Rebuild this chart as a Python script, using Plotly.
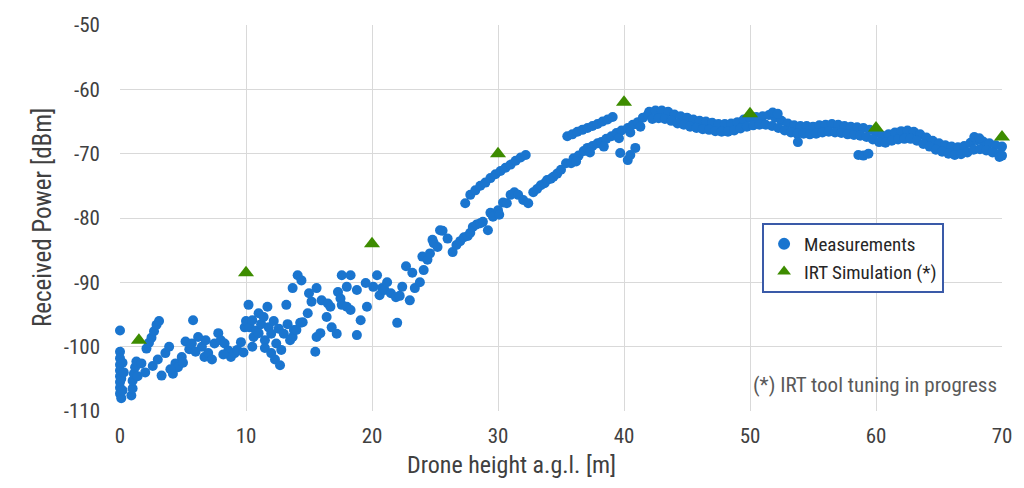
import plotly.graph_objects as go

# ---------------- data ----------------
# Measurements, split into segments along the height axis
a_x = [0.0, 0.0, 0.0, 0.0, 0.0, 0.0, 0.0, 0.0, 0.0, 0.1, 0.1, 0.2, 0.2, 0.3,
       0.9, 1.0, 1.0, 1.1, 1.2, 1.3, 1.4, 1.7, 2.0, 2.1, 2.3, 2.5, 2.7, 2.9, 3.1, 2.6, 3.0]
a_y = [-97.5, -100.8, -101.8, -102.8, -103.7, -104.6, -105.5, -106.4, -107.3, -108.0, -105.0, -102.5, -106.8, -104.0,
       -107.6, -106.5, -105.3, -104.2, -103.2, -102.3, -104.6, -102.6, -104.0, -100.3, -99.4, -98.6, -97.6, -96.6, -96.0, -103.0, -102.0]

b_x = [3.6, 3.9, 4.2, 4.4, 4.6, 4.9, 5.2, 5.5, 5.7, 5.8, 6.0, 6.2, 6.5, 6.7, 7.0, 7.3, 7.5, 7.8, 8.0, 8.3,
       8.6, 8.8, 9.1, 9.3, 9.6, 9.8, 9.9, 3.3, 4.0, 5.0, 6.8, 8.2]
b_y = [-101.0, -100.0, -104.2, -102.6, -103.2, -101.6, -99.2, -100.4, -99.5, -95.9, -100.8, -98.5, -100.0, -101.6, -101.0, -102.0, -99.5, -97.9, -99.0, -99.5,
       -100.6, -101.6, -101.0, -100.5, -99.3, -100.9, -97.0, -104.5, -103.5, -102.5, -99.0, -101.2]

c_x = [10.0, 10.2, 10.3, 10.5, 10.5, 10.6, 10.8, 11.0, 11.0, 11.2, 11.4, 11.5, 11.5, 11.7, 11.8, 12.0, 12.0, 12.2,
       12.3, 12.4, 12.6, 12.7, 12.8, 13.0, 13.2, 13.3, 13.5, 13.7, 13.8, 13.7, 14.0, 14.1, 14.3, 14.4, 14.5]
c_y = [-96.0, -93.5, -97.0, -95.9, -100.0, -98.5, -97.5, -94.8, -97.9, -96.5, -95.4, -99.0, -100.2, -93.8, -97.0, -98.0, -101.0, -96.0,
       -102.0, -99.5, -97.2, -102.9, -100.5, -98.0, -93.5, -96.5, -99.0, -98.5, -97.4, -90.9, -97.4, -88.9, -96.3, -89.7, -96.2]

d_x = [14.9, 15.0, 15.2, 15.5, 15.6, 15.6, 15.9, 16.0, 16.4, 16.5, 16.7, 16.8, 17.2, 17.3, 17.5, 17.6, 17.6, 18.0, 18.0,
       18.3, 18.3, 18.8, 18.8, 19.1, 19.5, 19.6, 20.1, 20.4, 20.6, 20.8, 21.0, 21.2, 21.5, 21.9, 22.0, 22.2, 22.4, 22.7,
       23.0, 23.2, 23.4, 23.8, 24.0, 24.1, 24.4]
d_y = [-94.8, -91.7, -93.0, -100.8, -90.9, -98.5, -97.9, -92.8, -95.4, -93.3, -93.8, -97.0, -98.0, -91.5, -92.5, -88.9, -93.5, -90.7, -93.8,
       -88.9, -94.3, -91.2, -98.2, -95.9, -90.1, -93.8, -90.7, -88.9, -92.0, -90.9, -91.2, -90.0, -91.7, -92.3, -96.3, -92.1, -90.7, -87.5,
       -92.8, -88.5, -90.9, -90.0, -86.0, -88.1, -86.5]

e_x = [24.6, 24.8, 24.9, 25.2, 25.4, 25.6, 26.0, 26.4, 26.7, 27.0, 27.3, 27.6, 27.8, 28.0, 28.3, 28.6, 28.8, 29.2, 29.4, 29.6,
       30.0, 30.1, 30.4, 30.7, 31.0, 31.3, 31.6, 32.0, 32.4, 32.8, 33.1, 33.4, 33.7, 33.9, 34.2, 34.4, 34.7, 35.0, 35.4]
e_y = [-85.5, -83.4, -83.9, -84.5, -81.9, -82.0, -83.2, -85.3, -84.2, -83.6, -83.0, -82.8, -82.3, -81.4, -81.0, -80.8, -80.6, -81.9, -79.2, -79.8,
       -78.8, -79.5, -77.6, -77.7, -76.4, -76.0, -76.4, -77.2, -77.7, -76.0, -75.5, -74.9, -74.6, -74.1, -73.9, -73.6, -73.1, -72.5, -71.5]

u_x = [27.4, 27.8, 28.2, 28.6, 29.0, 29.4, 29.8, 30.2, 30.6, 31.0, 31.4, 31.8, 32.2]
u_y = [-77.7, -76.4, -75.7, -75.0, -74.5, -73.8, -73.2, -72.7, -72.2, -71.7, -71.1, -70.6, -70.2]

f_x = [35.5, 35.9, 36.3, 36.7, 37.1, 37.5, 37.9, 38.3, 38.7, 39.1]
f_y = [-67.3, -67.0, -66.6, -66.3, -66.0, -65.7, -65.4, -65.0, -64.7, -64.3]

g_x = [35.8, 36.0, 36.4, 36.8, 37.1, 37.5, 37.9, 38.2, 38.6, 39.0, 39.4, 39.8, 40.3, 40.7, 41.1, 41.5, 41.9,
       36.2, 37.3, 38.4, 39.6, 40.5, 41.3, 39.7, 40.3, 40.9, 40.5]
g_y = [-71.5, -70.7, -70.3, -69.6, -69.1, -68.8, -68.4, -68.2, -67.7, -67.3, -66.8, -66.4, -66.0, -65.5, -65.1, -64.4, -63.9,
       -71.2, -69.8, -68.9, -67.6, -66.7, -65.8, -69.9, -71.0, -69.1, -70.2]

h1_x = [42.0, 42.5, 43.0, 43.5, 44.0, 44.5, 45.0, 45.5, 46.0, 46.5, 47.0, 47.5, 48.0, 48.5, 49.0, 49.5,
        50.0, 50.5, 51.0, 51.5, 52.0, 52.5, 53.0, 53.5, 54.0, 54.5, 55.0, 55.5, 56.0, 56.5, 57.0, 57.5,
        58.0, 58.5, 59.0, 59.5, 60.0, 60.5, 61.0, 61.5, 62.0, 62.5, 63.0, 63.5, 64.0, 64.5, 65.0, 65.5,
        66.0, 66.5, 67.0, 67.5, 68.0, 68.5, 69.0, 69.5, 70.0]
h1_y = [-63.5, -63.3, -63.3, -63.5, -63.9, -64.2, -64.4, -64.7, -64.9, -65.0, -65.2, -65.4, -65.4, -65.3, -65.1, -64.7,
        -64.4, -64.3, -64.2, -64.0, -64.4, -64.9, -65.3, -65.6, -65.7, -65.7, -65.8, -65.6, -65.5, -65.4, -65.5, -65.7,
        -65.8, -65.9, -66.0, -66.3, -66.8, -67.2, -67.0, -66.7, -66.5, -66.4, -66.6, -67.0, -67.5, -68.0, -68.4, -68.7,
        -68.9, -69.0, -68.8, -68.3, -67.9, -68.1, -68.4, -68.7, -68.9]

h2_x = [42.25, 42.75, 43.25, 43.75, 44.25, 44.75, 45.25, 45.75, 46.25, 46.75, 47.25, 47.75, 48.25, 48.75,
        49.25, 49.75, 50.25, 50.75, 51.25, 51.75, 52.25, 52.75, 53.25, 53.75, 54.25, 54.75, 55.25, 55.75,
        56.25, 56.75, 57.25, 57.75, 58.25, 58.75, 59.25, 59.75, 60.25, 60.75, 61.25, 61.75, 62.25, 62.75,
        63.25, 63.75, 64.25, 64.75, 65.25, 65.75, 66.25, 66.75, 67.25, 67.75, 68.25, 68.75, 69.25, 69.75]
h2_y = [-64.6, -64.5, -64.6, -64.9, -65.3, -65.5, -65.8, -66.0, -66.2, -66.3, -66.5, -66.6, -66.6, -66.4,
        -66.1, -65.8, -65.6, -65.5, -65.5, -65.7, -66.0, -66.4, -66.7, -66.9, -66.9, -67.0, -66.9, -66.7,
        -66.6, -66.7, -66.8, -67.0, -67.1, -67.2, -67.4, -67.8, -68.2, -68.3, -68.0, -67.8, -67.7, -67.7,
        -68.0, -68.5, -68.9, -69.4, -69.7, -70.0, -70.2, -70.1, -69.8, -69.4, -69.3, -69.5, -69.8, -70.1]

k_x = [53.8, 58.6, 59.0, 59.4, 51.8, 52.2, 67.8, 68.2, 69.8, 70.0]
k_y = [-68.2, -70.2, -70.3, -70.0, -63.6, -63.8, -67.4, -67.6, -70.5, -70.3]

# IRT simulation points
sim_x = [1.5, 10, 20, 30, 40, 50, 60, 70]
sim_y = [-99.0, -88.5, -84.0, -70.0, -62.0, -63.8, -66.0, -67.4]

x_ticks = [0, 10, 20, 30, 40, 50, 60, 70]
x_tick_text = ["0", "10", "20", "30", "40", "50", "60", "70"]
y_ticks = [-110, -100, -90, -80, -70, -60, -50]
y_tick_text = ["-110", "-100", "-90", "-80", "-70", "-60", "-50"]

meas_x = a_x + b_x + c_x + d_x + e_x + u_x + f_x + g_x + h1_x + h2_x + k_x
meas_y = a_y + b_y + c_y + d_y + e_y + u_y + f_y + g_y + h1_y + h2_y + k_y

FONT = "Liberation Sans Narrow, Roboto Condensed, Roboto, sans-serif"
GRID = "#d9d9d9"
TXT = "#404040"

fig = go.Figure()
fig.add_trace(go.Scatter(
    x=meas_x, y=meas_y, mode="markers", name="Measurements",
    marker=dict(color="#1a75cf", size=10, line=dict(width=0)),
    cliponaxis=False))
fig.add_trace(go.Scatter(
    x=sim_x, y=sim_y, mode="markers", name="IRT Simulation (*)",
    marker=dict(symbol="triangle-up", color="#3d8c00", size=14, line=dict(width=0)),
    cliponaxis=False))

# The page body has an 8 px margin, so the figure is 16 px smaller than the window
fig.update_layout(
    width=1008, height=472,
    margin=dict(l=112, r=14, t=17, b=69),
    paper_bgcolor="white", plot_bgcolor="white",
    font=dict(family=FONT, color=TXT),
    showlegend=True,
    legend=dict(
        x=0.728, y=0.487, xanchor="left", yanchor="top",
        bgcolor="white", bordercolor="#3a5aa8", borderwidth=2,
        font=dict(size=19, color="#262626", family=FONT),
        itemsizing="constant"),
    xaxis=dict(
        range=[0, 70], tickvals=x_ticks, ticktext=x_tick_text, showgrid=True, gridcolor=GRID, gridwidth=1,
        zeroline=False, showline=False, ticks="", tickfont=dict(size=21, color=TXT),
        ticklabelstandoff=10, automargin=False),
    yaxis=dict(
        range=[-110, -50], tickvals=y_ticks, ticktext=y_tick_text, showgrid=True, gridcolor=GRID, gridwidth=1,
        zeroline=False, showline=False, ticks="", tickfont=dict(size=21, color=TXT),
        ticklabelstandoff=19, automargin=False),
    annotations=[
        dict(text="(*) IRT tool tuning in progress", xref="paper", yref="paper",
             x=0.997, y=0.068, xanchor="right", yanchor="middle", showarrow=False,
             font=dict(size=21, color="#595959", family=FONT)),
        dict(text="Drone height a.g.l. [m]", xref="paper", yref="paper",
             x=0.444, y=-0.14, xanchor="center", yanchor="middle", showarrow=False,
             font=dict(size=24, color=TXT, family=FONT)),
        dict(text="Received Power [dBm]", xref="paper", yref="paper",
             x=-0.0884, y=0.5, xanchor="center", yanchor="middle", textangle=-90, showarrow=False,
             font=dict(size=25, color=TXT, family=FONT)),
    ],
)

fig.write_html("out.html")
